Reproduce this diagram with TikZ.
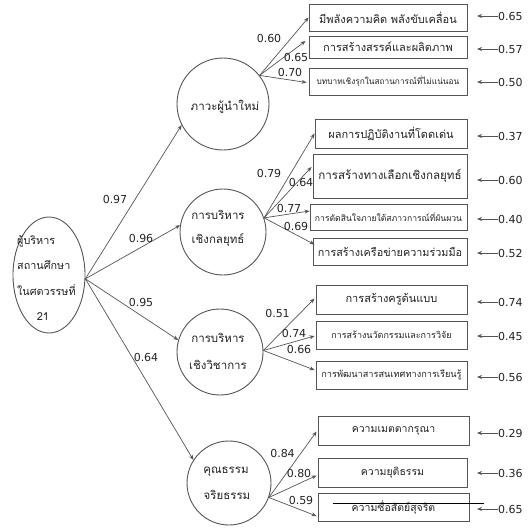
\documentclass[tikz,border=0pt]{standalone}
\usepackage{fontspec}
\setmainfont{DejaVu Sans}
\newfontfamily\thai[Script=Thai]{Loma}
\usetikzlibrary{arrows.meta,shapes.geometric,calc}
\definecolor{ln}{HTML}{555555}
\definecolor{tx}{HTML}{222222}
\tikzset{
  lat/.style={circle,draw=ln,line width=0.9pt,inner sep=0pt},
  mainell/.style={ellipse,draw=ln,line width=0.9pt,inner sep=0pt,minimum width=72pt,minimum height=116pt},
  obs/.style={rectangle,draw=ln,line width=0.9pt,inner sep=0pt,text=tx},
  arr/.style={draw=ln,line width=0.7pt,-{Stealth[length=5pt,width=4pt]}},
  num/.style={font=\fontsize{11}{13}\selectfont,inner sep=0pt,text=tx},
  th/.style={font={\thai\fontsize{#1}{#1}\selectfont},inner sep=0pt,text=tx},
}
\begin{document}
\begin{tikzpicture}[x=1pt,y=-1pt]
\useasboundingbox (0,0) rectangle (529,530);

% main latent
\node[mainell] (m) at (49,275) {};
\node[th=10.8,anchor=west] (mt1) at (17,241) {ผู้บริหาร};
\node[th=10.8,anchor=west] (mt2) at (17,265) {สถานศึกษา};
\node[th=10.8,anchor=west] (mt3) at (17,290) {ในศตวรรษที่};
\node[th=11] (mt4) at (43,317) {21};

% latent circles
\node[lat,minimum size=92pt] (c1) at (223,104) {};
\node[th=11.5] (c1t) at (225,107) {ภาวะผู้นำใหม่};
\node[lat,minimum size=86pt] (c2) at (223,232) {};
\node[th=11.5] (c2a) at (218,215) {การบริหาร};
\node[th=11.5] (c2b) at (218,240) {เชิงกลยุทธ์};
\node[lat,minimum size=86pt] (c3) at (220,352) {};
\node[th=11.5] (c3a) at (218,338) {การบริหาร};
\node[th=11.5] (c3b) at (218,365) {เชิงวิชาการ};
\node[lat,minimum size=84pt] (c4) at (229,483) {};
\node[th=11.5] (c4a) at (226,472) {คุณธรรม};
\node[th=11.5] (c4b) at (227,495) {จริยธรรม};

% observed boxes
\node[obs,minimum width=158pt,minimum height=27pt,th=11] (b1) at (388,17.5) {มีพลังความคิด พลังขับเคลื่อน};
\node[obs,minimum width=158pt,minimum height=22pt,th=11] (b2) at (388,47) {การสร้างสรรค์และผลิตภาพ};
\node[obs,minimum width=158pt,minimum height=27pt,th=8.3] (b3) at (388,81.5) {บทบาทเชิงรุกในสถานการณ์ที่ไม่แน่นอน};
\node[obs,minimum width=152pt,minimum height=29pt,th=11] (b4) at (391,133.5) {ผลการปฏิบัติงานที่โดดเด่น};
\node[obs,minimum width=154pt,minimum height=44pt,th=11.6] (b5) at (390,176) {การสร้างทางเลือกเชิงกลยุทธ์};
\node[obs,minimum width=157pt,minimum height=26pt,th=8.6] (b6) at (388.5,217) {การตัดสินใจภายใต้สภาวการณ์ที่ผันผวน};
\node[obs,minimum width=154pt,minimum height=27pt,th=10.8] (b7) at (390,251.5) {การสร้างเครือข่ายความร่วมมือ};
\node[obs,minimum width=151pt,minimum height=29pt,th=11] (b8) at (391.5,299.5) {การสร้างครูต้นแบบ};
\node[obs,minimum width=151pt,minimum height=28pt,th=9] (b9) at (391.5,335) {การสร้างนวัตกรรมและการวิจัย};
\node[obs,minimum width=151pt,minimum height=28pt,th=9.2] (b10) at (391.5,375) {การพัฒนาสารสนเทศทางการเรียนรู้};
\node[obs,minimum width=151pt,minimum height=29pt,th=10.5] (b11) at (393.5,430.5) {ความเมตตากรุณา};
\node[obs,minimum width=149pt,minimum height=29pt,th=10.5] (b12) at (392.5,472.5) {ความยุติธรรม};
\node[obs,minimum width=151pt,minimum height=28pt,th=10.5] (b13) at (393.5,507) {ความซื่อสัตย์สุจริต};

% stray line across last box
\coordinate (s1) at (333,503);
\coordinate (s2) at (484,503);
\draw[black,line width=0.8pt] (s1) -- (s2);

% main paths
\draw[arr] (m.-6) -- (c1.207);
\draw[arr] (m.-6) -- (c2.171);
\draw[arr] (m.-6) -- (c3.164);
\draw[arr] (m.-6) -- (c4.147);
\node[num] (l1) at (115,199) {0.97};
\node[num] (l2) at (141,238) {0.96};
\node[num] (l3) at (141,302) {0.95};
\node[num] (l4) at (146,357) {0.64};

% loadings c1
\draw[arr] (c1.38) -- (b1.west);
\draw[arr] (c1.38) -- ($(b2.west)+(-3,-6)$);
\draw[arr] (c1.38) -- ($(b3.west)+(-2,1)$);
\node[num] (k1) at (269,38) {0.60};
\node[num] (k2) at (296,57) {0.65};
\node[num] (k3) at (290,72) {0.70};

% loadings c2
\draw[arr] (c2.19) -- (b4.west);
\draw[arr] (c2.19) -- ($(b5.west)+(-1,-9)$);
\draw[arr] (c2.19) -- ($(b6.west)+(0,-6)$);
\draw[arr] (c2.19) -- ($(b7.west)+(2,-7)$);
\node[num] (k4) at (269,173) {0.79};
\node[num] (k5) at (301,182) {0.64};
\node[num] (k6) at (289,208) {0.77};
\node[num] (k7) at (296,226) {0.69};

% loadings c3
\draw[arr] (c3.2) -- ($(b8.west)+(-1,-1)$);
\draw[arr] (c3.2) -- ($(b9.west)+(-1,1)$);
\draw[arr] (c3.2) -- ($(b10.west)+(-1,-5)$);
\node[num] (k8) at (277.5,313) {0.51};
\node[num] (k9) at (294,333) {0.74};
\node[num] (k10) at (299,349) {0.66};

% loadings c4
\draw[arr] (c4.-20) -- ($(b11.west)+(-1,1)$);
\draw[arr] (c4.-20) -- ($(b12.west)+(-1,3)$);
\draw[arr] (c4.-20) -- ($(b13.west)+(-1,9)$);
\node[num] (k11) at (282.5,453) {0.84};
\node[num] (k12) at (299,473) {0.80};
\node[num] (k13) at (301,500) {0.59};

% error terms
\foreach \i/\v/\y in {1/0.65/16,2/0.57/49,3/0.50/82,4/0.37/136,5/0.60/180,6/0.40/219,7/0.52/253,8/0.74/302,9/0.45/336,10/0.56/377,11/0.29/433,12/0.36/473,13/0.65/509}{
  \node[num,anchor=west] (e\i) at (498,\y) {\v};
  \coordinate (t\i) at (477,\y);
  \draw[arr] (e\i.west) -- (t\i);
}
\end{tikzpicture}
\end{document}
